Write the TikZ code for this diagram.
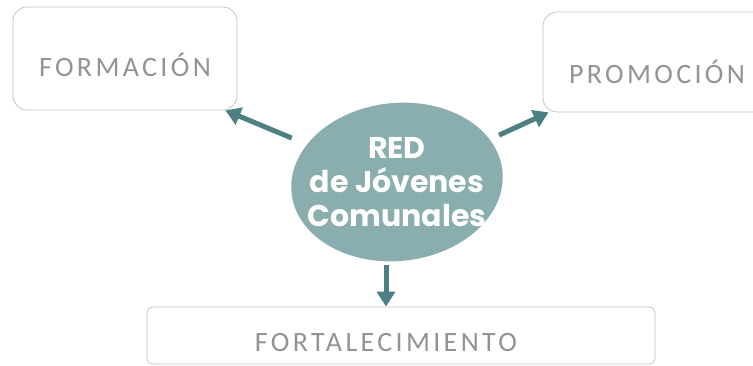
\documentclass[tikz,border=0pt]{standalone}
\usepackage{fontspec}
\setmainfont{Carlito}
\newfontfamily\boxfont[LetterSpace=12]{Carlito}
\newfontfamily\redfont{Poppins}[BoldFont={Poppins Bold}]
\usetikzlibrary{arrows.meta,shapes.geometric}
\definecolor{ellfill}{HTML}{8AADAE}
\definecolor{arrcol}{HTML}{4D8082}
\definecolor{boxline}{HTML}{C4C4C4}
\definecolor{boxtext}{HTML}{939393}
\tikzset{
  x=1pt, y=1pt,
  labelbox/.style={draw=boxline, line width=0.8pt, rounded corners=14pt, inner sep=0pt},
  labeltext/.style={text=boxtext, font=\boxfont\fontsize{28}{30}\selectfont, inner sep=0pt},
  arr/.style={draw=arrcol, line width=5pt, -{Triangle[length=15pt,width=18pt]}},
}
\begin{document}
\begin{tikzpicture}
\useasboundingbox (0,0) rectangle (753,366);
\clip (0,0) rectangle (753,366);
% boxes
\node[labelbox, minimum width=224pt, minimum height=103pt] (form) at (125,307.5) {};
\node[labeltext] (formt) at (125,301) {FORMACIÓN};
\node[labelbox, minimum width=230pt, minimum height=100pt] (prom) at (658,304) {};
\node[labeltext] (promt) at (657,294) {PROMOCIÓN};
\node[labelbox, rounded corners=6pt, minimum width=508pt, minimum height=57pt] (fortbox) at (401,30.5) {};
\node[labeltext] (fort) at (386,23) {FORTALECIMIENTO};
% central ellipse
\coordinate (c) at (397,184);
\fill[ellfill, rotate around={6:(c)}] (c) ellipse [x radius=106, y radius=79];
\node[ellipse, minimum width=212pt, minimum height=158pt, inner sep=0pt, align=center,
      text=white, font=\redfont\bfseries\fontsize{30}{34}\selectfont] (red) at (c)
      {RED\\de Jóvenes\\Comunales};
% arrows
\draw[arr] (red) -- ([xshift=-12pt]form.south east);
\draw[arr] (red) -- ([xshift=6pt]prom.south west);
\draw[arr, shorten <=4pt] (red.south -| fort) -- (fortbox.north -| fort);
\end{tikzpicture}
\end{document}
